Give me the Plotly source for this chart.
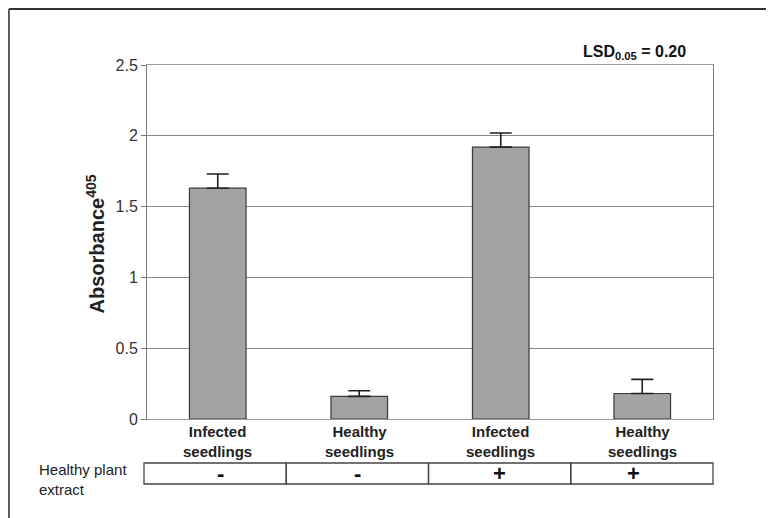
import plotly.graph_objects as go

categories = ["Infected<br>seedlings", "Healthy<br>seedlings", "Infected<br>seedlings", "Healthy<br>seedlings"]
absorbance = [1.63, 0.16, 1.92, 0.18]
errors = [0.10, 0.04, 0.10, 0.10]
extract_marks = ["-", "-", "+", "+"]
y_ticks = [0, 0.5, 1, 1.5, 2, 2.5]
y_ticklabels = ["0", "0.5", "1", "1.5", "2", "2.5"]

xpos = list(range(len(categories)))
FONT = "Liberation Sans, Arial, sans-serif"

fig = go.Figure()
fig.add_trace(go.Bar(
    x=xpos, y=absorbance, width=0.4,
    marker=dict(color="#a3a3a3", line=dict(color="#3a3a3a", width=1.2)),
    error_y=dict(type="data", array=errors, arrayminus=[0] * len(errors), symmetric=False,
                 color="#222", thickness=1.6, width=11),
    showlegend=False,
))

fig.update_layout(
    width=766, height=510, autosize=False,
    margin=dict(l=139, r=61, t=57, b=99),
    paper_bgcolor="white", plot_bgcolor="white",
    font=dict(family=FONT, color="#222"),
    xaxis=dict(range=[-0.5, 3.5], showticklabels=False, showgrid=False, zeroline=False,
               showline=True, linecolor="#999", linewidth=1, mirror=True, ticks=""),
    yaxis=dict(range=[0, 2.5], tickvals=y_ticks, ticktext=y_ticklabels,
               showgrid=True, gridcolor="#8a8a8a", gridwidth=1, zeroline=False,
               showline=True, linecolor="#777", linewidth=1, mirror=True,
               ticks="outside", ticklen=5, tickcolor="#777",
               tickfont=dict(size=16, color="#333")),
)

# y-axis title
fig.add_annotation(xref="paper", yref="paper", x=-0.1175, y=0.496, textangle=-90,
                   text="<b>Absorbance<sup>405</sup></b>", showarrow=False,
                   font=dict(size=20, color="#222", family=FONT))

# category labels
for i, c in enumerate(categories):
    fig.add_annotation(x=xpos[i], xref="x", y=0, yref="paper", yanchor="top", yshift=-2,
                       text="<b>" + c + "</b>", showarrow=False,
                       font=dict(size=15, color="#222", family=FONT), align="center")

# extract table
n = len(categories)
x0p, x1p = -0.0053, 1.0
ytop, ybot = -0.1243, -0.1836
colw = (x1p - x0p) / n
for i in range(n):
    fig.add_shape(type="rect", xref="paper", yref="paper", layer="below",
                  x0=x0p + i * colw, x1=x0p + (i + 1) * colw, y0=ybot, y1=ytop,
                  line=dict(color="#444", width=1.3), fillcolor="rgba(0,0,0,0)")
    fig.add_annotation(xref="paper", yref="paper", x=x0p + (i + 0.5) * colw, y=(ytop + ybot) / 2,
                       yanchor="middle", text="<b>" + extract_marks[i] + "</b>", showarrow=False,
                       font=dict(size=22, color="#111", family=FONT))

fig.add_annotation(xref="paper", yref="paper", x=-0.1943, y=-0.172,
                   xanchor="left", yanchor="middle",
                   text="Healthy plant<br>extract", align="left", showarrow=False,
                   font=dict(size=15, color="#222", family=FONT))

# LSD annotation
fig.add_annotation(xref="paper", yref="paper", x=0.956, y=1.034, xanchor="right", yanchor="middle",
                   text="<b>LSD<sub>0.05</sub> = 0.20</b>", showarrow=False,
                   font=dict(size=16, color="#111", family=FONT))

# outer frame
fig.add_shape(type="line", xref="paper", yref="paper", x0=-0.244, x1=1.2, y0=1.158, y1=1.158,
              line=dict(color="#333", width=2))
fig.add_shape(type="line", xref="paper", yref="paper", x0=-0.244, x1=-0.244, y0=1.158, y1=-0.3,
              line=dict(color="#555", width=2))

fig.write_html("out.html")
